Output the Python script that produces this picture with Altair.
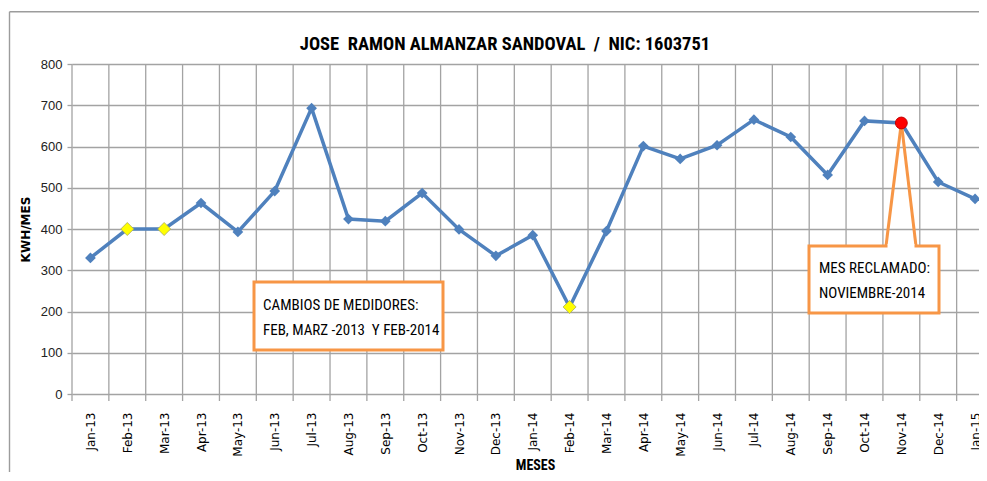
import altair as alt
import pandas as pd

# ---------------- data ----------------
months = ["Jan-13", "Feb-13", "Mar-13", "Apr-13", "May-13", "Jun-13", "Jul-13",
          "Aug-13", "Sep-13", "Oct-13", "Nov-13", "Dec-13", "Jan-14", "Feb-14",
          "Mar-14", "Apr-14", "May-14", "Jun-14", "Jul-14", "Aug-14", "Sep-14",
          "Oct-14", "Nov-14", "Dec-14", "Jan-15"]
kwh = [330, 400, 400, 463, 393, 492, 693, 424, 419, 487, 399, 335, 385, 211,
       395, 601, 570, 603, 665, 623, 531, 662, 657, 514, 473]
meter_change_months = ["Feb-13", "Mar-13", "Feb-14"]
claimed_month = "Nov-14"
y_ticks = [0, 100, 200, 300, 400, 500, 600, 700, 800]
title_text = "JOSE\u00a0 RAMON ALMANZAR SANDOVAL\u00a0 / \u00a0NIC: 1603751"
box1_lines = ["CAMBIOS DE MEDIDORES:", "FEB, MARZ -2013\u00a0 Y FEB-2014"]
box2_lines = ["MES RECLAMADO:", "NOVIEMBRE-2014"]

kind = ["cambio" if m in meter_change_months else ("reclamado" if m == claimed_month else "normal")
        for m in months]
df = pd.DataFrame({"idx": list(range(len(months))), "month": months, "kwh": kwh, "kind": kind})
grid_df = pd.DataFrame({"idx": [i - 0.5 for i in range(len(months))]})
one = pd.DataFrame({"t": [0]})

# ---------------- layout ----------------
W, H = 907, 330
STEP = 36.86
x_max = -0.5 + W / STEP
GRID = "#a3a3a3"
ORANGE = "#F79646"
BLUE = "#4F81BD"
NARROW = "Liberation Sans Narrow, Arial Narrow, Roboto Condensed, sans-serif"

label_expr = "[" + ",".join("'" + m + "'" for m in months) + "][datum.value]"

x_scale = alt.Scale(domain=[-0.5, x_max], nice=False, zero=False)
y_scale = alt.Scale(domain=[0, 800], nice=False, zero=True)

x_axis = alt.Axis(values=list(range(len(months))), labelExpr=label_expr, labelAngle=-90,
                  labelFont="DejaVu Sans", labelFontSize=12, labelColor="#000",
                  labelPadding=18, ticks=False, grid=False, domain=False,
                  labelOverlap=False, labelFlush=False, labelBound=False,
                  title="MESES", titleFont=NARROW, titleFontSize=14, titleFontWeight="bold",
                  titleColor="#000", titleX=463, titleY=71, titleBaseline="middle")
y_axis = alt.Axis(values=y_ticks, grid=True, gridColor=GRID, gridWidth=1.3, gridOpacity=1,
                  tickColor=GRID, tickSize=5, tickWidth=1.3, domain=False,
                  labelFont="Liberation Sans", labelFontSize=13, labelColor="#222",
                  labelPadding=5, title="KWH/MES", titleFont="DejaVu Sans",
                  titleFontSize=12, titleFontWeight="bold", titleColor="#000",
                  titleX=-47, titleY=H / 2, titleAngle=-90, titleBaseline="middle",
                  titleAlign="center")

X = alt.X("idx:Q", scale=x_scale, axis=x_axis)
Y = alt.Y("kwh:Q", scale=y_scale, axis=y_axis)

# frame of the chart area
frame_top = alt.Chart(one).mark_rule(color="#9c9c9c", strokeWidth=1.4).encode(
    x=alt.value(-62.5), x2=alt.value(W + 20), y=alt.value(-52.3))
frame_left = alt.Chart(one).mark_rule(color="#9c9c9c", strokeWidth=1.4).encode(
    x=alt.value(-62.5), y=alt.value(-52.3), y2=alt.value(430))

title = alt.Chart(one).mark_text(align="center", baseline="alphabetic", font=NARROW,
                                 fontSize=18.5, fontWeight="bold", color="#000").encode(
    x=alt.value(433), y=alt.value(-14), text=alt.value(title_text))

# vertical grid lines at month boundaries (with ticks below the axis)
vgrid = alt.Chart(grid_df).mark_rule(color=GRID, strokeWidth=1.3).encode(
    x=X, y=alt.value(0), y2=alt.value(H + 7))

# annotation box 1
box1 = alt.Chart(one).mark_rect(fill="white", stroke=ORANGE, strokeWidth=3).encode(
    x=alt.value(182), x2=alt.value(371), y=alt.value(218), y2=alt.value(286))
box1_text = alt.Chart(one).mark_text(align="left", baseline="alphabetic", font=NARROW,
                                     fontSize=15, lineHeight=25, color="#000").encode(
    x=alt.value(191), y=alt.value(246), text=alt.value(box1_lines))

line = alt.Chart(df).mark_line(color=BLUE, strokeWidth=3.5).encode(x=X, y=Y)

# callout box 2
claimed = alt.Chart(df).transform_filter(alt.datum.kind == "reclamado")
box2 = alt.Chart(one).mark_rect(fill="white", stroke=ORANGE, strokeWidth=3).encode(
    x=alt.value(737), x2=alt.value(867), y=alt.value(182), y2=alt.value(249))
box2_gap = alt.Chart(one).mark_rule(color="white", strokeWidth=4).encode(
    x=alt.value(815.5), x2=alt.value(842.5), y=alt.value(182))
ptr_left = claimed.mark_rule(color=ORANGE, strokeWidth=3).encode(
    x=X, y=Y, x2=alt.value(814), y2=alt.value(182))
ptr_right = claimed.mark_rule(color=ORANGE, strokeWidth=3).encode(
    x=X, y=Y, x2=alt.value(844), y2=alt.value(182))
box2_text = alt.Chart(one).mark_text(align="left", baseline="alphabetic", font=NARROW,
                                     fontSize=15, lineHeight=25, color="#000").encode(
    x=alt.value(747), y=alt.value(209), text=alt.value(box2_lines))

pts_normal = alt.Chart(df).transform_filter(alt.datum.kind == "normal").mark_point(
    shape="diamond", filled=True, size=115, color=BLUE, opacity=1).encode(x=X, y=Y)
pts_change = alt.Chart(df).transform_filter(alt.datum.kind == "cambio").mark_point(
    shape="diamond", filled=True, size=170, fill="#FFFF00", stroke="#a8a860",
    strokeWidth=0.8, opacity=1).encode(x=X, y=Y)
pts_claim = claimed.mark_point(shape="circle", filled=True, size=140, fill="#FF0000",
                               stroke="#C00000", strokeWidth=1, opacity=1).encode(x=X, y=Y)

chart = alt.layer(
    frame_top, frame_left, title, vgrid, box1, box1_text, line,
    ptr_left, ptr_right, box2, box2_gap, box2_text,
    pts_normal, pts_change, pts_claim,
).properties(
    width=W, height=H,
    padding={"left": 64, "top": 56, "right": 0, "bottom": 78},
    autosize="none",
    background="white",
).configure_view(stroke=None)

chart.save("out.html", embed_options={"renderer": "svg", "actions": False})
